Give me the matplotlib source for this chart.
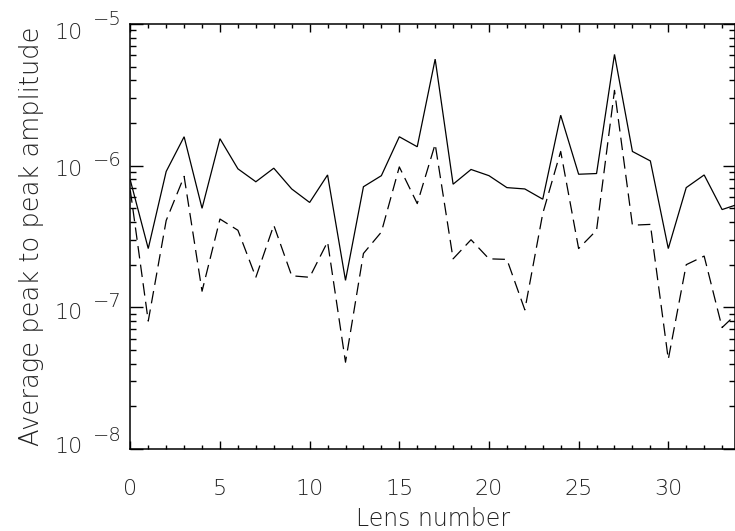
import numpy as np
import matplotlib
matplotlib.use("Agg")
import matplotlib.pyplot as plt
from matplotlib.ticker import FixedLocator, NullFormatter, MultipleLocator
from matplotlib import transforms

# Average peak-to-peak amplitude per lens
lens = np.arange(35)
amp_total = [7.9e-7, 2.6e-7, 9.1e-7, 1.6e-6, 5.0e-7, 1.55e-6, 9.5e-7, 7.7e-7,
             9.6e-7, 6.85e-7, 5.5e-7, 8.6e-7, 1.55e-7, 7.1e-7, 8.5e-7, 1.6e-6,
             1.36e-6, 5.65e-6, 7.4e-7, 9.4e-7, 8.5e-7, 7.0e-7, 6.85e-7, 5.8e-7,
             2.27e-6, 8.7e-7, 8.8e-7, 6.1e-6, 1.26e-6, 1.08e-6, 2.6e-7, 7.0e-7,
             8.6e-7, 4.9e-7, 5.4e-7]
amp_part = [6.7e-7, 8.0e-8, 4.1e-7, 8.4e-7, 1.3e-7, 4.2e-7, 3.5e-7, 1.63e-7,
            3.8e-7, 1.67e-7, 1.63e-7, 2.9e-7, 4.1e-8, 2.4e-7, 3.4e-7, 9.8e-7,
            5.4e-7, 1.42e-6, 2.2e-7, 3.0e-7, 2.2e-7, 2.18e-7, 9.6e-8, 4.6e-7,
            1.26e-6, 2.6e-7, 3.5e-7, 3.4e-6, 3.8e-7, 3.85e-7, 4.3e-8, 2.0e-7,
            2.3e-7, 7.2e-8, 9.5e-8]
x_ticks = [0, 5, 10, 15, 20, 25, 30]
y_exponents = [-8, -7, -6, -5]

plt.rcParams['font.family'] = ['DejaVu Sans']
plt.rcParams['font.weight'] = 200
plt.rcParams['axes.labelweight'] = 200
TEXT_COLOR = '#222222'
fig = plt.figure(figsize=(7.35, 5.31), dpi=100)
ax = fig.add_axes([0.1773, 0.1544, 0.8227, 0.8004])

ax.plot(lens, amp_total, color='black', lw=0.9, solid_joinstyle='miter')
ax.plot(lens, amp_part, color='black', lw=0.9, dashes=(10, 5))

ax.set_yscale('log')
ax.set_xlim(0, 33.72)
ax.set_ylim(1e-8, 1e-5)

ax.xaxis.set_major_locator(FixedLocator(x_ticks))
ax.xaxis.set_minor_locator(MultipleLocator(1))
ax.yaxis.set_major_locator(FixedLocator([10.0 ** e for e in y_exponents]))
ax.yaxis.set_minor_locator(FixedLocator(
    [m * 10.0 ** e for e in y_exponents[:-1] for m in range(2, 10)]))
ax.yaxis.set_major_formatter(NullFormatter())
ax.yaxis.set_minor_formatter(NullFormatter())

ax.tick_params(axis='x', which='major', direction='in', length=6, width=1,
               top=True, bottom=True, labelsize=16, pad=21.5,
               labelcolor=TEXT_COLOR)
ax.tick_params(axis='x', which='minor', direction='in', length=3, width=1,
               top=True, bottom=True)
ax.tick_params(axis='y', which='major', direction='in', length=9, width=1,
               left=True, right=True)
ax.tick_params(axis='y', which='minor', direction='in', length=4.5, width=1,
               left=True, right=True)
for sp in ax.spines.values():
    sp.set_linewidth(1.1)

# Decade labels written as 10 with a raised exponent; the end labels are
# nudged inward so they stay within the axis height
base_dy = {-8: 1.5, -7: -4.0, -6: -3.0, -5: -6.5}
sup_dy = {-8: 9.5, -7: 4.0, -6: 4.0, -5: 3.0}
blend = transforms.blended_transform_factory(ax.transAxes, ax.transData)
for e in y_exponents:
    ax.annotate('10', xy=(0, 10.0 ** e), xycoords=blend,
                xytext=(-34, base_dy[e]), textcoords='offset points',
                ha='right', va='center', fontsize=16, color=TEXT_COLOR,
                annotation_clip=False)
    ax.annotate('\u2212' + str(-e), xy=(0, 10.0 ** e), xycoords=blend,
                xytext=(-6, sup_dy[e]), textcoords='offset points',
                ha='right', va='center', fontsize=14, color=TEXT_COLOR,
                annotation_clip=False)

ax.set_xlabel('Lens number', fontsize=17, labelpad=6, color=TEXT_COLOR,
              fontweight=200)
ax.set_ylabel('Average peak to peak amplitude', fontsize=18.5, labelpad=59,
              color=TEXT_COLOR, fontweight=200)

fig.savefig('out.png', dpi=100)
